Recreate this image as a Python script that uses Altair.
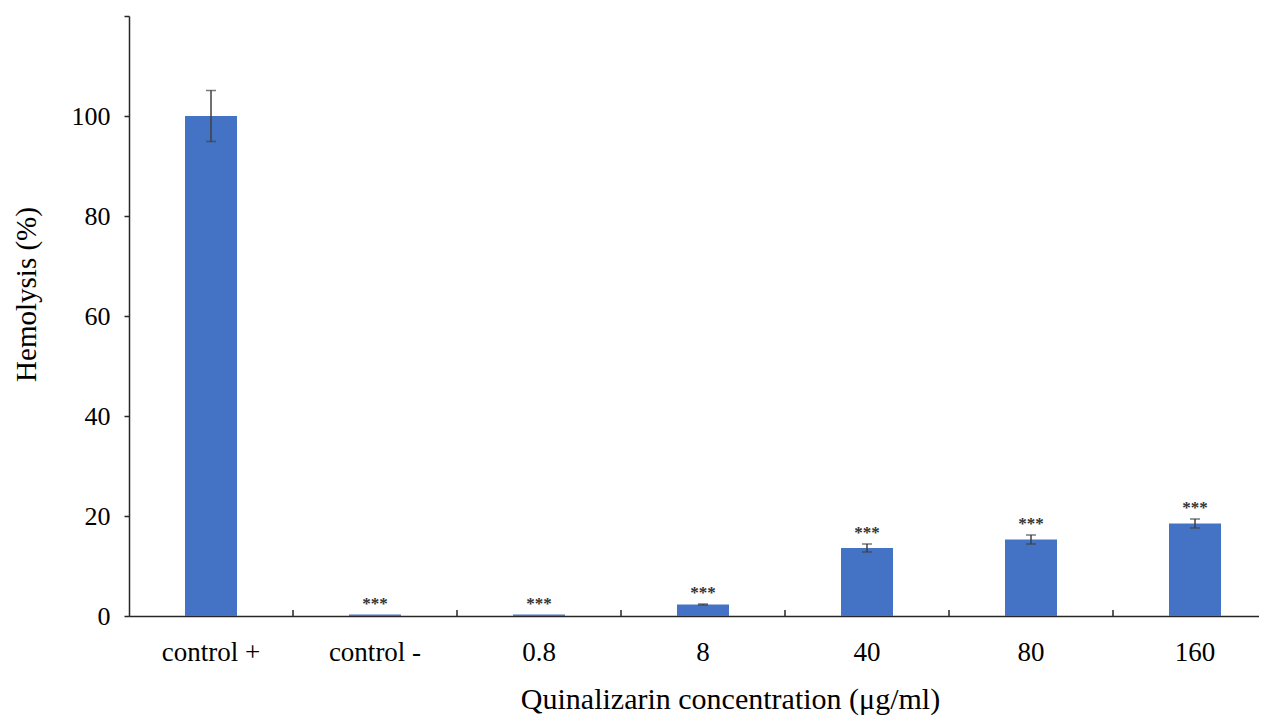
import altair as alt
import pandas as pd

categories = ["control +", "control -", "0.8", "8", "40", "80", "160"]
means = [100.0, 0.3, 0.3, 2.3, 13.6, 15.3, 18.5]
errors = [5.1, 0.0, 0.0, 0.1, 0.8, 0.9, 0.9]
stars = ["", "***", "***", "***", "***", "***", "***"]
y_ticks = [0, 20, 40, 60, 80, 100, 120]

df = pd.DataFrame({"cat": categories, "mean": means, "err": errors, "star": stars})
df["lo"] = df["mean"] - df["err"]
df["hi"] = df["mean"] + df["err"]
err_df = df[df["err"] > 0]
star_df = df[df["star"] != ""]
bound_df = df.iloc[1:]

FONT = "Liberation Serif"
AX = "#262626"
ERR = "#404040"
BAR = "#4472C4"
XTITLE = "Quinalizarin concentration (μg/ml)"
YTITLE = "Hemolysis (%)"

xscale = alt.Scale(domain=categories, paddingInner=0, paddingOuter=0)
yscale = alt.Scale(domain=[0, 120], nice=False, zero=True)

xaxis = alt.Axis(
    title=XTITLE, ticks=False, labelPadding=23,
    labelFontSize=27, labelFont=FONT, labelColor="black", labelAngle=0,
    titleFont=FONT, titleFontSize=30, titleFontWeight="normal", titleColor="black",
    titleX=601, titleY=92, titleBaseline="alphabetic", titleAlign="center",
    domainColor=AX, domainWidth=1.5, grid=False,
)
yaxis = alt.Axis(
    title=YTITLE, values=y_ticks,
    labelExpr="datum.value == 120 ? '' : datum.label",
    tickSize=5, tickColor=AX, tickWidth=1.5, labelPadding=14,
    labelFontSize=26, labelFont=FONT, labelColor="black",
    titleFont=FONT, titleFontSize=29, titleFontWeight="normal", titleColor="black",
    titleX=-94, titleY=278, titleBaseline="alphabetic", titleAlign="center",
    domainColor=AX, domainWidth=1.5, grid=False,
)


def xenc(**kw):
    return alt.X("cat:N", scale=xscale, axis=xaxis, sort=categories, title=XTITLE, **kw)


def yenc(field):
    return alt.Y(field, type="quantitative", scale=yscale, axis=yaxis, title=YTITLE)


bars = alt.Chart(df).mark_bar(size=52, color=BAR).encode(
    x=xenc(), y=yenc("mean"),
)

bounds = alt.Chart(bound_df).mark_rule(color=AX, strokeWidth=1.5).encode(
    x=xenc(bandPosition=0),
    y=alt.YDatum(0, type="quantitative", scale=yscale, axis=yaxis, title=YTITLE),
    y2=alt.datum(1.2),
)

err_rule = alt.Chart(err_df).mark_rule(color=ERR, strokeWidth=1.5).encode(
    x=xenc(), y=yenc("lo"), y2="hi:Q",
)
cap_hi = alt.Chart(err_df).mark_tick(color=ERR, size=10, thickness=1.5).encode(
    x=xenc(), y=yenc("hi"),
)
cap_lo = alt.Chart(err_df).mark_tick(color=ERR, size=10, thickness=1.5).encode(
    x=xenc(), y=yenc("lo"),
)
star_text = alt.Chart(star_df).mark_text(
    dy=-11, fontSize=17, fontWeight="bold", color="#333333", font=FONT, baseline="middle"
).encode(
    x=xenc(), y=yenc("hi"), text="star:N",
)

chart = alt.layer(bars, bounds, err_rule, cap_hi, cap_lo, star_text).properties(
    width=1148, height=600,
    autosize=alt.AutoSizeParams(type="none"),
    padding={"left": 121, "top": 8, "right": -18, "bottom": 100},
    background="white",
).configure_view(stroke=None)

chart.save("out.html", embed_options={"renderer": "svg", "actions": False})
